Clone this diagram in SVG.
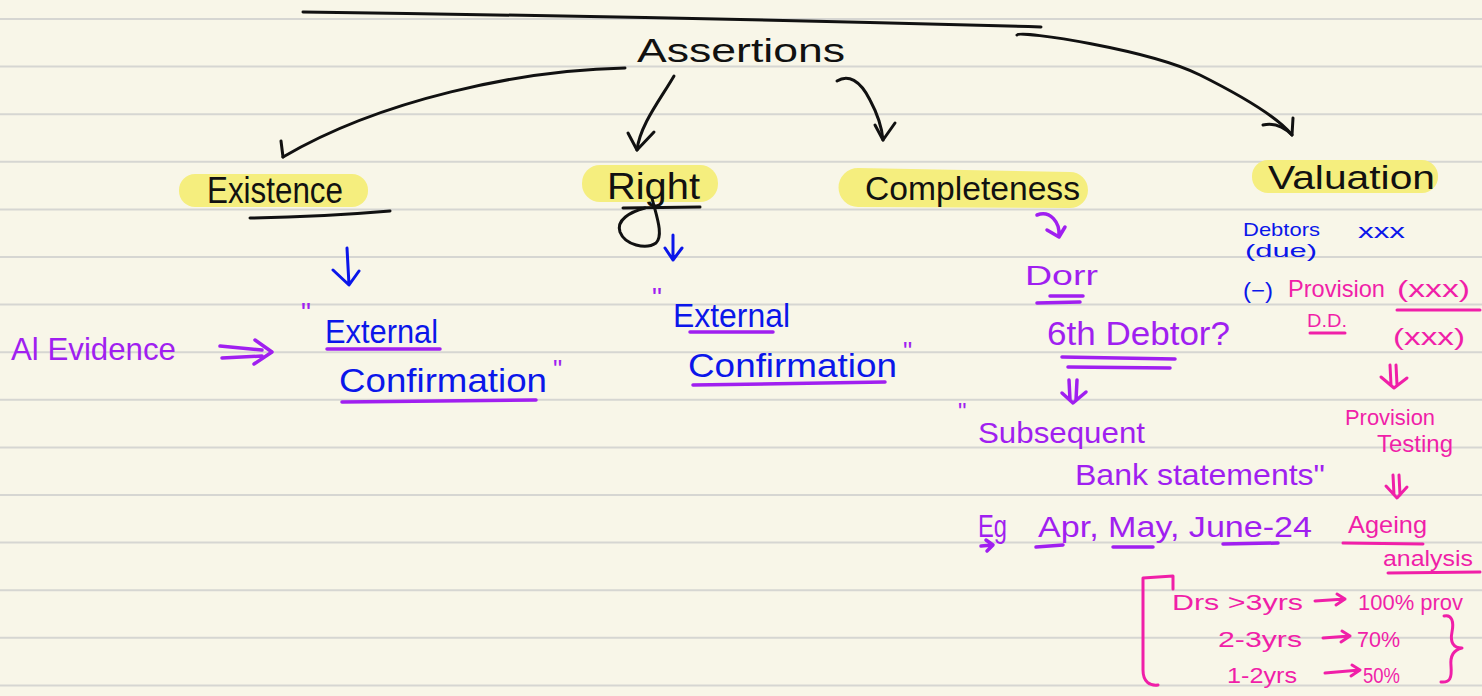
<svg xmlns="http://www.w3.org/2000/svg" width="1482" height="696" viewBox="0 0 1482 696">
  <style>
    .paper { fill: #f8f6e8; }
    .rule { stroke: #d6d6d2; stroke-width: 2; }
    .hl { fill: #f5ee7e; }
    .t { font-family: "Liberation Sans", "DejaVu Sans", sans-serif; }
    .k { fill: #111111; }
    .b { fill: #0b16ea; }
    .p { fill: #a01ff0; }
    .m { fill: #f01fa8; }
    .ink { fill: none; stroke-linecap: round; stroke-linejoin: round; }
    .sk { stroke: #111111; stroke-width: 3; }
    .sb { stroke: #0b16ea; stroke-width: 3; }
    .sp { stroke: #a01ff0; stroke-width: 3.5; }
    .sm { stroke: #f01fa8; stroke-width: 3; }
  </style>

  <!-- ruled notebook page -->
  <rect class="paper" x="0" y="0" width="1482" height="696"/>
  <g id="page-rules">
    <line class="rule" x1="0" y1="19" x2="1482" y2="19"/>
    <line class="rule" x1="0" y1="66.6" x2="1482" y2="66.6"/>
    <line class="rule" x1="0" y1="114.2" x2="1482" y2="114.2"/>
    <line class="rule" x1="0" y1="161.8" x2="1482" y2="161.8"/>
    <line class="rule" x1="0" y1="209.4" x2="1482" y2="209.4"/>
    <line class="rule" x1="0" y1="257" x2="1482" y2="257"/>
    <line class="rule" x1="0" y1="304.6" x2="1482" y2="304.6"/>
    <line class="rule" x1="0" y1="352.2" x2="1482" y2="352.2"/>
    <line class="rule" x1="0" y1="399.8" x2="1482" y2="399.8"/>
    <line class="rule" x1="0" y1="447.4" x2="1482" y2="447.4"/>
    <line class="rule" x1="0" y1="495" x2="1482" y2="495"/>
    <line class="rule" x1="0" y1="542.6" x2="1482" y2="542.6"/>
    <line class="rule" x1="0" y1="590.2" x2="1482" y2="590.2"/>
    <line class="rule" x1="0" y1="637.8" x2="1482" y2="637.8"/>
    <line class="rule" x1="0" y1="685.4" x2="1482" y2="685.4"/>
  </g>

  <!-- root heading -->
  <g id="node-assertions">
    <path class="ink sk" d="M303,12 Q680,17 1041,27"/>
    <text class="t k" x="637" y="62" font-size="34" textLength="208" lengthAdjust="spacingAndGlyphs">Assertions</text>
  </g>

  <!-- assertion categories -->
  <g id="node-existence">
    <rect class="hl" x="179" y="174" width="189" height="33" rx="16"/>
    <text class="t k" x="207" y="203" font-size="36" textLength="136" lengthAdjust="spacingAndGlyphs">Existence</text>
    <path class="ink sk" d="M250,218 Q320,217 390,211"/>
  </g>

  <g id="node-right">
    <rect class="hl" x="582" y="165" width="136" height="37" rx="18"/>
    <text class="t k" x="607" y="199" font-size="36" textLength="93" lengthAdjust="spacingAndGlyphs">Right</text>
    <path class="ink sk" d="M623,208 L700,207"/>
    <path class="ink sk" d="M652,198 C656,215 664,235 656,243 C646,250 625,245 620,232 C616,220 630,212 645,208"/>
  </g>

  <g id="node-completeness">
    <path class="hl" d="M858,168 L1070,172 A18,18 0 0 1 1070,208 L858,207 A19.5,19.5 0 0 1 858,168 Z"/>
    <text class="t k" x="865" y="200" font-size="34" textLength="215" lengthAdjust="spacingAndGlyphs">Completeness</text>
  </g>

  <g id="node-valuation">
    <rect class="hl" x="1252" y="160" width="186" height="33" rx="16"/>
    <text class="t k" x="1268" y="189" font-size="34" textLength="167" lengthAdjust="spacingAndGlyphs">Valuation</text>
  </g>

  <!-- evidence for existence -->
  <g id="node-evidence">
    <text class="t p" x="11" y="360" font-size="32" textLength="165" lengthAdjust="spacingAndGlyphs">Al Evidence</text>
  </g>

  <g id="node-external-1">
    <text class="t p" x="301" y="322" font-size="28">"</text>
    <text class="t b" x="325" y="343" font-size="34" textLength="113" lengthAdjust="spacingAndGlyphs">External</text>
    <path class="ink sp" d="M327,349 L440,349"/>
    <text class="t b" x="339" y="392" font-size="34" textLength="208" lengthAdjust="spacingAndGlyphs">Confirmation</text>
    <text class="t p" x="553" y="378" font-size="26">"</text>
    <path class="ink sp" d="M342,402 L536,400"/>
  </g>

  <g id="node-external-2">
    <text class="t p" x="652" y="307" font-size="28">"</text>
    <text class="t b" x="673" y="327" font-size="34" textLength="117" lengthAdjust="spacingAndGlyphs">External</text>
    <path class="ink sp" d="M690,332 L773,332"/>
    <text class="t b" x="688" y="377" font-size="34" textLength="209" lengthAdjust="spacingAndGlyphs">Confirmation</text>
    <text class="t p" x="903" y="360" font-size="26">"</text>
    <path class="ink sp" d="M693,385 L885,382"/>
  </g>

  <!-- completeness: subsequent receipts -->
  <g id="node-debtor-query">
    <text class="t p" x="1025" y="285" font-size="28" textLength="73" lengthAdjust="spacingAndGlyphs">Dorr</text>
    <path class="ink sp" d="M1050,296 L1083,296"/>
    <path class="ink sp" d="M1037,303 L1080,302"/>
    <text class="t p" x="1047" y="345" font-size="34" textLength="183" lengthAdjust="spacingAndGlyphs">6th Debtor?</text>
    <path class="ink sp" d="M1062,357 L1175,359"/>
    <path class="ink sp" d="M1068,367 L1170,368"/>
  </g>

  <g id="node-bank-statements">
    <text class="t p" x="958" y="420" font-size="24">"</text>
    <text class="t p" x="978" y="443" font-size="30" textLength="167" lengthAdjust="spacingAndGlyphs">Subsequent</text>
    <text class="t p" x="1075" y="485" font-size="30" textLength="250" lengthAdjust="spacingAndGlyphs">Bank statements"</text>
    <text class="t p" x="978" y="537" font-size="32" textLength="29" lengthAdjust="spacingAndGlyphs">Eg</text>
    <path class="ink sp" d="M981,546 L993,545 M986,540 L993,545 L987,551"/>
    <text class="t p" x="1038" y="537" font-size="30" textLength="274" lengthAdjust="spacingAndGlyphs">Apr, May, June-24</text>
    <path class="ink sp" d="M1036,547 L1063,545"/>
    <path class="ink sp" d="M1113,547 L1153,547"/>
    <path class="ink sp" d="M1223,544 L1278,543"/>
  </g>

  <!-- valuation: debtors net of provision -->
  <g id="node-debtors">
    <text class="t b" x="1243" y="236" font-size="19" textLength="77" lengthAdjust="spacingAndGlyphs">Debtors</text>
    <text class="t b" x="1245" y="257" font-size="18" textLength="72" lengthAdjust="spacingAndGlyphs">(due)</text>
    <text class="t b" x="1358" y="238" font-size="20" textLength="47" lengthAdjust="spacingAndGlyphs">xxx</text>
    <text class="t b" x="1243" y="298" font-size="22" textLength="30" lengthAdjust="spacingAndGlyphs">(−)</text>
    <text class="t m" x="1288" y="297" font-size="24" textLength="97" lengthAdjust="spacingAndGlyphs">Provision</text>
    <text class="t m" x="1397" y="297" font-size="24" textLength="73" lengthAdjust="spacingAndGlyphs">(xxx)</text>
    <text class="t m" x="1307" y="327" font-size="18" textLength="40" lengthAdjust="spacingAndGlyphs">D.D.</text>
    <path class="ink sm" d="M1310,333 L1345,333"/>
    <path class="ink sm" d="M1397,310 L1480,310"/>
    <text class="t m" x="1393" y="345" font-size="24" textLength="72" lengthAdjust="spacingAndGlyphs">(xxx)</text>
  </g>

  <g id="node-provision-testing">
    <text class="t m" x="1345" y="425" font-size="22" textLength="90" lengthAdjust="spacingAndGlyphs">Provision</text>
    <text class="t m" x="1377" y="452" font-size="24" textLength="76" lengthAdjust="spacingAndGlyphs">Testing</text>
  </g>

  <g id="node-ageing">
    <text class="t m" x="1348" y="533" font-size="24" textLength="79" lengthAdjust="spacingAndGlyphs">Ageing</text>
    <path class="ink sm" d="M1343,543 L1423,544"/>
    <text class="t m" x="1383" y="566" font-size="22" textLength="90" lengthAdjust="spacingAndGlyphs">analysis</text>
    <path class="ink sm" d="M1388,573 L1480,572"/>
  </g>

  <g id="node-ageing-rates">
    <path class="ink sm" d="M1173,589 L1173,576 L1143,578 L1143,670 C1143,682 1150,686 1158,685"/>
    <text class="t m" x="1172" y="610" font-size="22" textLength="131" lengthAdjust="spacingAndGlyphs">Drs  &gt;3yrs</text>
    <path class="ink sm" d="M1315,601 L1345,599 M1337,594 L1345,599 L1336,605"/>
    <text class="t m" x="1358" y="610" font-size="22" textLength="105" lengthAdjust="spacingAndGlyphs">100% prov</text>
    <text class="t m" x="1218" y="647" font-size="22" textLength="84" lengthAdjust="spacingAndGlyphs">2-3yrs</text>
    <path class="ink sm" d="M1323,638 L1350,636 M1342,631 L1350,636 L1341,642"/>
    <text class="t m" x="1357" y="647" font-size="22" textLength="43" lengthAdjust="spacingAndGlyphs">70%</text>
    <text class="t m" x="1227" y="683" font-size="22" textLength="70" lengthAdjust="spacingAndGlyphs">1-2yrs</text>
    <path class="ink sm" d="M1325,673 L1360,670 M1352,665 L1360,670 L1351,676"/>
    <text class="t m" x="1363" y="683" font-size="22" textLength="37" lengthAdjust="spacingAndGlyphs">50%</text>
    <path class="ink sm" d="M1444,616 C1452,614 1454,622 1452,632 C1450,642 1453,648 1462,648 C1453,650 1450,656 1451,666 C1452,678 1450,683 1441,682"/>
  </g>

  <!-- connectors -->
  <g id="connectors">
    <!-- Assertions to the four categories -->
    <path class="ink sk" d="M625,68 C520,70 380,100 283,157"/>
    <path class="ink sk" d="M283,157 L281,141"/>
    <path class="ink sk" d="M674,76 C660,100 640,125 637,150"/>
    <path class="ink sk" d="M628,133 L637,150 L654,132"/>
    <path class="ink sk" d="M837,81 C848,74 860,80 870,100 C878,115 882,128 883,140"/>
    <path class="ink sk" d="M875,125 L883,140 L895,123"/>
    <path class="ink sk" d="M1017,35 C1020,30 1150,50 1200,75 C1250,100 1280,120 1292,135"/>
    <path class="ink sk" d="M1263,125 C1276,122 1285,128 1292,135 L1293,118"/>

    <!-- Existence / Right to confirmations -->
    <path class="ink sb" d="M347,248 L349,285 M333,270 L349,285 L359,271"/>
    <path class="ink sb" d="M673,235 L673,260 M665,248 L673,260 L682,248"/>

    <!-- audit evidence double arrow -->
    <path class="ink sp" d="M220,346 L262,350 M222,358 L262,356 M255,340 L272,352 L254,364"/>

    <!-- Completeness chain -->
    <path class="ink sp" d="M1037,215 C1050,210 1060,222 1059,236 M1047,230 L1059,237 L1065,227"/>
    <path class="ink sp" d="M1069,380 L1070,400 M1077,380 L1076,400 M1062,393 L1073,403 L1086,392"/>

    <!-- Valuation chain -->
    <path class="ink sm" d="M1390,365 L1391,385 M1396,365 L1397,385 M1381,377 L1394,388 L1407,378"/>
    <path class="ink sm" d="M1393,475 L1394,495 M1399,475 L1400,495 M1386,486 L1397,498 L1407,487"/>
  </g>
</svg>
